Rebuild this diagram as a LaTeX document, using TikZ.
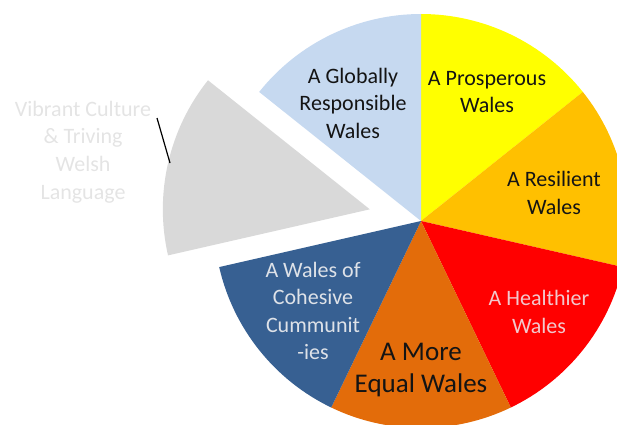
\documentclass[tikz,border=0pt]{standalone}
\usepackage{fontspec}
\setmainfont{Carlito}
\usetikzlibrary{calc}
\definecolor{cblue}{RGB}{198,217,240}
\definecolor{cyellow}{RGB}{255,255,0}
\definecolor{camber}{RGB}{255,192,0}
\definecolor{cred}{RGB}{255,0,0}
\definecolor{corange}{RGB}{227,108,10}
\definecolor{cnavy}{RGB}{55,96,146}
\definecolor{cgray}{RGB}{217,217,217}
\definecolor{tpink}{RGB}{242,200,205}
\definecolor{tlight}{RGB}{222,226,232}
\definecolor{tgray}{RGB}{228,228,228}
\definecolor{tdark}{RGB}{20,20,20}
\tikzset{
  lbl/.style={align=center, inner sep=0pt, font=\fontsize{22}{27.5}\selectfont},
  biglbl/.style={align=center, inner sep=0pt, font=\fontsize{27}{31.5}\selectfont},
}
\newcommand{\pieslice}[4]{%
  \fill[#1] (#2) -- ++(#3:207) arc[start angle=#3, end angle=#4, radius=207] -- cycle;}
\begin{document}
\begin{tikzpicture}[x=1pt,y=1pt]
\useasboundingbox (0,0) rectangle (617,424);
\clip (0,0) rectangle (617,424);
\coordinate (c) at (421,203);
\coordinate (cg) at ($(c)+(167.14:52.5)$);
\pieslice{cyellow}{c}{38.57}{90}
\pieslice{camber}{c}{-12.86}{38.57}
\pieslice{cred}{c}{-64.29}{-12.86}
\pieslice{corange}{c}{-115.71}{-64.29}
\pieslice{cnavy}{c}{-167.14}{-115.71}
\pieslice{cblue}{c}{90}{141.43}
\pieslice{cgray}{cg}{141.43}{192.86}
\node[lbl, text=tdark] (glob) at (353,321) {A Globally\\Responsible\\Wales};
\node[lbl, text=tdark] (pros) at (487,332) {A Prosperous\\Wales};
\node[lbl, text=tdark] (resi) at (554,231) {A Resilient\\Wales};
\node[lbl, text=tpink] (heal) at (539,112) {A Healthier\\Wales};
\node[biglbl, text=tdark] (equa) at (421,54) {A More\\Equal Wales};
\node[lbl, text=tlight] (cohe) at (313,113) {A Wales of\\Cohesive\\Cummunit\\-ies};
\node[lbl, text=tgray] (vibr) at (83,272) {Vibrant Culture\\\& Triving\\Welsh\\Language};
\coordinate (l1) at (157,306);
\coordinate (l2) at (170,261);
\draw[black, line width=1.2pt] (l1) -- (l2);
\end{tikzpicture}
\end{document}
